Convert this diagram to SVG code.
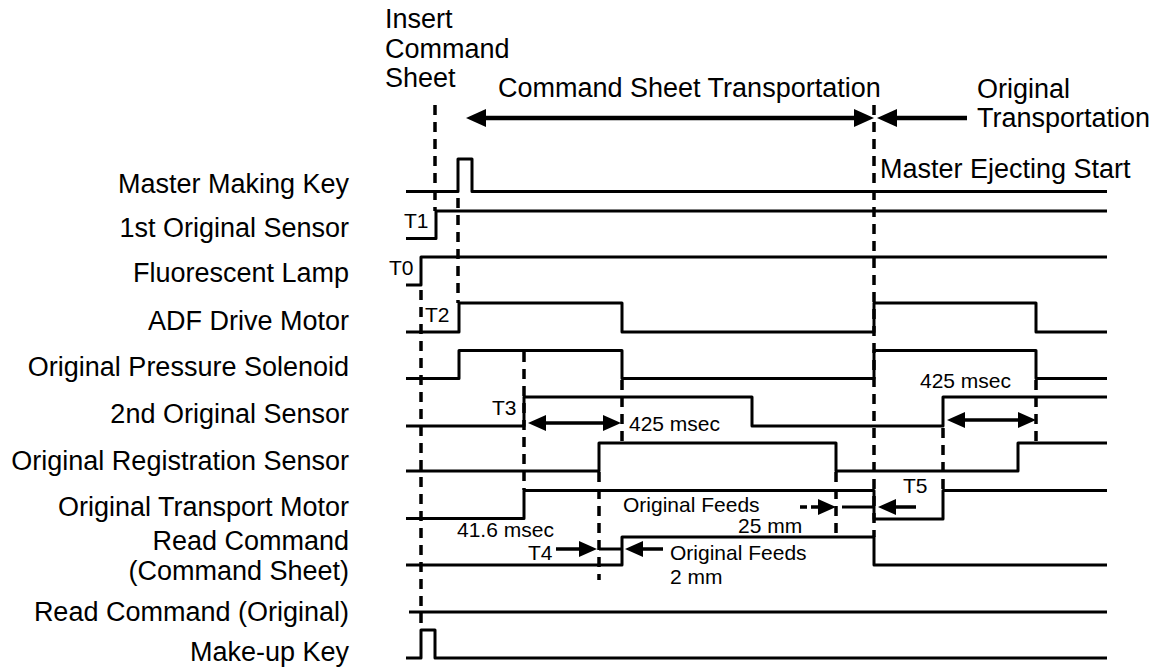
<svg xmlns="http://www.w3.org/2000/svg" width="1165" height="667" viewBox="0 0 1165 667">
<defs>
<style>
.big{font-family:"Liberation Sans",Arial,sans-serif;font-size:27px;fill:#000}
.lbl{font-family:"Liberation Sans",Arial,sans-serif;font-size:27px;fill:#000;text-anchor:end}
.sm{font-family:"Liberation Sans",Arial,sans-serif;font-size:21px;fill:#000}
.sig{fill:none;stroke:#000;stroke-width:3;stroke-linejoin:round}
.dash{fill:none;stroke:#000;stroke-width:3.5;stroke-dasharray:10 7}
.arr{fill:none;stroke:#000;stroke-width:3.5}
.harr{fill:none;stroke:#000;stroke-width:4.5}
.thin{fill:none;stroke:#000;stroke-width:3}
</style>
<marker id="ah" viewBox="0 0 18 16" refX="8" refY="8" markerWidth="18" markerHeight="16" markerUnits="userSpaceOnUse" orient="auto-start-reverse">
<path d="M0,0 L18,8 L0,16 Z" fill="#000"/>
</marker>
<marker id="ahb" viewBox="0 0 20 18" refX="9" refY="9" markerWidth="20" markerHeight="18" markerUnits="userSpaceOnUse" orient="auto-start-reverse">
<path d="M0,0 L20,9 L0,18 Z" fill="#000"/>
</marker>
</defs>
<rect width="1165" height="667" fill="#fff"/>

<g id="header">
<text class="big" x="385" y="28">Insert</text>
<text class="big" x="385" y="58">Command</text>
<text class="big" x="385" y="87">Sheet</text>
<text class="big" x="498" y="97">Command Sheet Transportation</text>
<text class="big" x="977" y="98">Original</text>
<text class="big" x="977" y="127">Transportation</text>
<text class="big" x="880" y="178">Master Ejecting Start</text>
</g>

<g id="labels">
<text class="lbl" x="349" y="193">Master Making Key</text>
<text class="lbl" x="349" y="237">1st Original Sensor</text>
<text class="lbl" x="349" y="282">Fluorescent Lamp</text>
<text class="lbl" x="349" y="330">ADF Drive Motor</text>
<text class="lbl" x="349" y="376">Original Pressure Solenoid</text>
<text class="lbl" x="349" y="423">2nd Original Sensor</text>
<text class="lbl" x="349" y="470">Original Registration Sensor</text>
<text class="lbl" x="349" y="516">Original Transport Motor</text>
<text class="lbl" x="349" y="550">Read Command</text>
<text class="lbl" x="349" y="580">(Command Sheet)</text>
<text class="lbl" x="349" y="621">Read Command (Original)</text>
<text class="lbl" x="349" y="661">Make-up Key</text>
</g>

<g id="signals">
<path id="sig-master" class="sig" d="M406,191.5 H458 V159 H472 V191.5 H1107"/>
<path id="sig-orig1" class="sig" d="M406,238.5 H436 V211 H1107"/>
<path id="sig-lamp" class="sig" d="M406,285 H421 V257 H1107"/>
<path id="sig-adf" class="sig" d="M406,332 H459 V303 H622 V332 H874 V303 H1036 V332 H1107"/>
<path id="sig-sol" class="sig" d="M406,378.5 H459 V350.5 H622 V378.5 H874 V350.5 H1036 V378.5 H1107"/>
<path id="sig-orig2" class="sig" d="M406,426 H524 V397 H752 V426 H943 V397 H1107"/>
<path id="sig-reg" class="sig" d="M406,471 H599 V443 H836 V471 H1018 V443 H1107"/>
<path id="sig-trans" class="sig" d="M406,518.5 H524 V490.5 H874 V519 H943 V490.5 H1107"/>
<path id="sig-rcs" class="sig" d="M406,565 H622 V537 H874 V565 H1107"/>
<path id="sig-rco" class="sig" d="M409,612 H1107"/>
<path id="sig-makeup" class="sig" d="M406,658 H421 V630 H435 V658 H1107"/>
</g>

<g id="connectors">
<path class="dash" d="M435,105 V211"/>
<path class="dash" d="M458,198 V303"/>
<path class="dash" d="M421,290 V630"/>
<path class="dash" d="M524,352 V490"/>
<path class="dash" d="M622,380 V443"/>
<path class="dash" d="M599,472 V580"/>
<path class="dash" d="M836,472 V537"/>
<path class="dash" d="M874,105 V537"/>
<path class="dash" d="M943,428 V490"/>
<path class="dash" d="M1036,380 V443"/>

<line class="harr" x1="477" y1="118" x2="863" y2="118" marker-start="url(#ahb)" marker-end="url(#ahb)"/>
<line class="harr" x1="967" y1="118" x2="888" y2="118" marker-end="url(#ahb)"/>

<line class="arr" x1="538" y1="423" x2="611" y2="423" marker-start="url(#ah)" marker-end="url(#ah)"/>
<line class="arr" x1="957" y1="420" x2="1026" y2="420" marker-start="url(#ah)" marker-end="url(#ah)"/>

<line class="arr" x1="556" y1="549" x2="587" y2="549" marker-end="url(#ah)"/>
<line class="thin" x1="599" y1="549" x2="622" y2="549"/>
<line class="arr" x1="663" y1="549" x2="635" y2="549" marker-end="url(#ah)"/>

<line class="arr" x1="800" y1="507" x2="826" y2="507" stroke-dasharray="7 4" marker-end="url(#ah)"/>
<line class="thin" x1="842" y1="507" x2="874" y2="507"/>
<line class="arr" x1="916" y1="507" x2="888" y2="507" marker-end="url(#ah)"/>
</g>

<g id="annotations">
<text class="sm" x="404" y="228">T1</text>
<text class="sm" x="389" y="275">T0</text>
<text class="sm" x="425" y="322">T2</text>
<text class="sm" x="492" y="415">T3</text>
<text class="sm" x="629" y="431">425 msec</text>
<text class="sm" x="920" y="388">425 msec</text>
<text class="sm" x="903" y="493">T5</text>
<text class="sm" x="623" y="512">Original Feeds</text>
<text class="sm" x="738" y="533">25 mm</text>
<text class="sm" x="457" y="537">41.6 msec</text>
<text class="sm" x="528" y="560">T4</text>
<text class="sm" x="670" y="560">Original Feeds</text>
<text class="sm" x="670" y="584">2 mm</text>
</g>
</svg>
